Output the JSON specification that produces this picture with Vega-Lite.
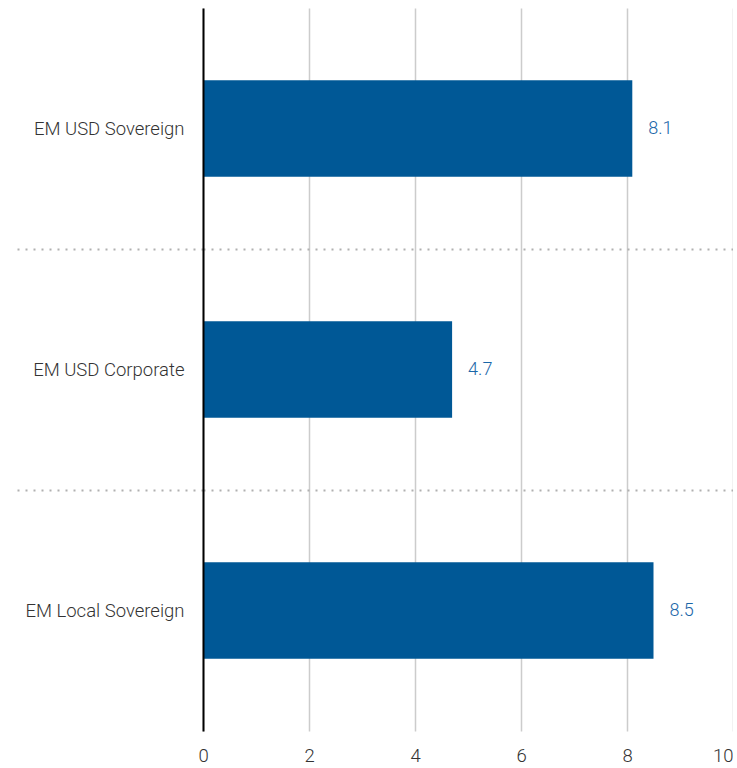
{
  "$schema": "https://vega.github.io/schema/vega-lite/v6.json",
  "autosize": {"type": "none"},
  "padding": {"left": 203, "top": 8, "right": 0, "bottom": 37},
  "width": 530,
  "height": 723,
  "background": "white",
  "config": {
    "view": {"stroke": null},
    "font": "Roboto",
    "axis": {"labelFont": "Roboto", "labelColor": "#333333", "labelFontSize": 18.5, "labelFontWeight": 300}
  },
  "data": {
    "values": [
      {"category": "EM USD Sovereign", "value": 8.1},
      {"category": "EM USD Corporate", "value": 4.7},
      {"category": "EM Local Sovereign", "value": 8.5}
    ]
  },
  "encoding": {
    "y": {
      "field": "category",
      "type": "nominal",
      "sort": null,
      "scale": {"paddingInner": 0, "paddingOuter": 0},
      "axis": {
        "title": null,
        "tickBand": "extent",
        "domain": true,
        "domainColor": "#000000",
        "domainWidth": 2,
        "ticks": true,
        "tickSize": 190,
        "tickColor": "#b0b0b0",
        "tickWidth": 2,
        "tickDash": [2, 6],
        "tickOpacity": {"condition": {"test": "datum.value === 'EM USD Sovereign' || datum.value === 'EM USD Corporate'", "value": 1}, "value": 0},
        "grid": true,
        "gridColor": "#b0b0b0",
        "gridWidth": 2,
        "gridDash": [2, 6],
        "gridOpacity": {"condition": {"test": "datum.value === 'EM USD Sovereign' || datum.value === 'EM USD Corporate'", "value": 1}, "value": 0},
        "labelPadding": -171,
        "labelAlign": "right",
        "zindex": 1
      }
    },
    "x": {
      "field": "value",
      "type": "quantitative",
      "scale": {"domain": [0, 10]},
      "axis": {
        "title": null,
        "values": [0, 2, 4, 6, 8, 10],
        "domain": false,
        "ticks": false,
        "grid": true,
        "gridColor": "#cccccc",
        "gridWidth": 1.5,
        "labelPadding": 15,
        "labelFlush": false,
        "labelAlign": {"condition": {"test": "datum.value === 10", "value": "right"}, "value": "center"},
        "zindex": 0
      }
    }
  },
  "layer": [
    {
      "mark": {"type": "bar", "color": "#005896", "height": {"band": 0.4}}
    },
    {
      "mark": {"type": "text", "align": "left", "dx": 16, "color": "#1a66a8", "fontSize": 18, "fontWeight": 300, "font": "Roboto"},
      "encoding": {"text": {"field": "value", "type": "quantitative", "format": ".1f"}}
    }
  ]
}
